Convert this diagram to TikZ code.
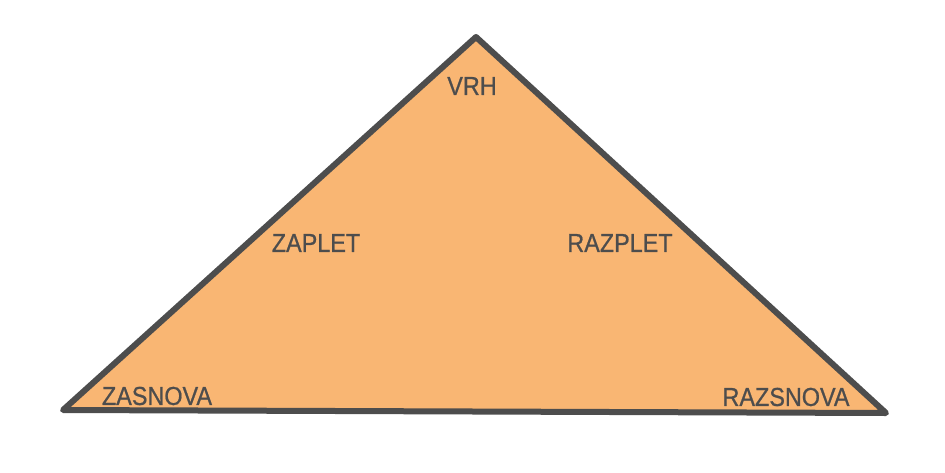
\documentclass[tikz,border=0pt]{standalone}
\usepackage{fontspec}
\setmainfont{Liberation Sans}
\newfontfamily\lblfont[FakeBold=0.8]{Liberation Sans}
\definecolor{fillc}{HTML}{F9B673}
\definecolor{linec}{HTML}{4D4D4D}
\tikzset{lbl/.style={text=linec, font=\lblfont\fontsize{26}{28}\selectfont, inner sep=0pt, xscale=0.9}}
\begin{document}
\begin{tikzpicture}[x=1pt,y=-1pt]
\useasboundingbox (0,0) rectangle (945,472);
\coordinate (top) at (476,37);
\coordinate (bl) at (63,410);
\coordinate (br) at (886,413);
\draw[line width=6pt, line join=round, draw=linec, fill=fillc] (top) -- (br) -- (bl) -- cycle;
\node[lbl] (vrh) at (472,86) {VRH};
\node[lbl] (zaplet) at (316,243) {ZAPLET};
\node[lbl] (razplet) at (620,243) {RAZPLET};
\node[lbl] (zasnova) at (157,396) {ZASNOVA};
\node[lbl] (razsnova) at (786,397) {RAZSNOVA};
\end{tikzpicture}
\end{document}
